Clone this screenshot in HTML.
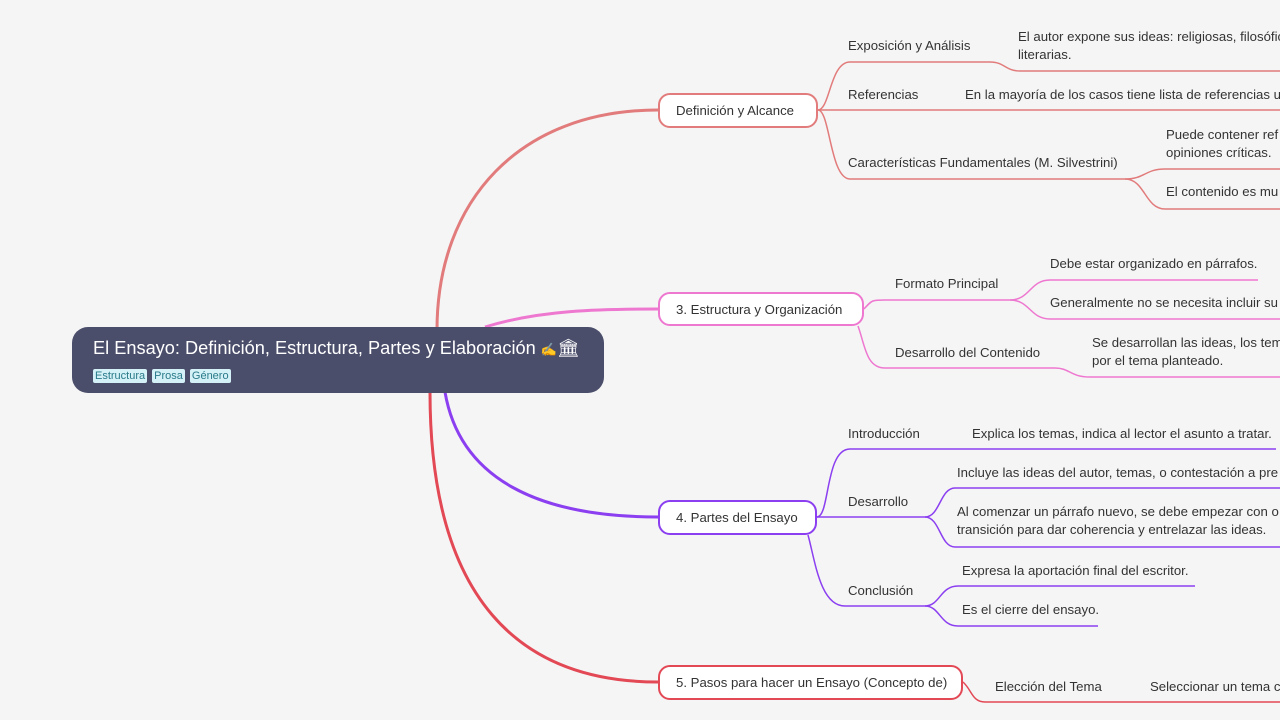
<!DOCTYPE html>
<html><head><meta charset="utf-8"><style>
body{margin:0;width:1280px;height:720px;background:#f5f5f5;overflow:hidden;position:relative;font-family:"Liberation Sans",sans-serif;}
.t{position:absolute;font-size:13.2px;color:#333;white-space:nowrap;line-height:18px;}
.n{position:absolute;background:#fff;border-radius:12px;box-sizing:border-box;font-size:13.2px;color:#333;display:flex;align-items:center;padding-left:16px;}
</style></head><body>
<svg width="1280" height="720" style="position:absolute;left:0;top:0" fill="none">
<g stroke="#e27b7b" stroke-width="1.5">
<path d="M818,110 C830,110 830,62 850,62 L990,62 C1005,62 1005,71 1020,71 L1280,71"/>
<path d="M818,110 L1280,110"/>
<path d="M818,110 C830,110 830,179 850,179 L1125,179 C1145,179 1145,169 1165,169 L1280,169"/>
<path d="M1125,179 C1145,179 1145,209 1165,209 L1280,209"/>
</g>
<g stroke="#ee77d0" stroke-width="1.5">
<path d="M864,309 C872,300 872,300 885,300 L1010,300 C1030,300 1030,280 1050,280 L1258,280"/>
<path d="M1010,300 C1030,300 1030,319 1050,319 L1280,319"/>
<path d="M858,326 C865,345 866,368 885,368 L1055,368 C1070,368 1070,377 1090,377 L1280,377"/>
</g>
<g stroke="#8b3ff0" stroke-width="1.5">
<path d="M817,517 C830,517 825,449 850,449 L1276,449"/>
<path d="M817,517 L925,517 C940,517 940,488 955,488 L1280,488"/>
<path d="M925,517 C940,517 940,547 955,547 L1280,547"/>
<path d="M808,535 C815,560 820,606 845,606 L925,606 C940,606 940,586 958,586 L1195,586"/>
<path d="M925,606 C940,606 940,626 958,626 L1098,626"/>
</g>
<g stroke="#e34855" stroke-width="1.5">
<path d="M963,682 C972,690 972,702 985,702 L1130,702 L1280,702"/>
</g>
<path d="M437,330 C437,200 520,110 658,110" stroke="#e27b7b" stroke-width="3"/>
<path d="M485,327 C540,310 600,309 658,309" stroke="#ee77d0" stroke-width="3"/>
<path d="M445,392 C460,480 540,517 658,517" stroke="#8b3ff0" stroke-width="3"/>
<path d="M430,392 C430,600 520,682 658,682" stroke="#e34855" stroke-width="3"/>
</svg>
<div style="position:absolute;left:72px;top:327px;width:532px;height:66px;background:#4b4e6b;border-radius:16px;"></div>
<div class="t" style="left:93px;top:337px;font-size:18.2px;color:#fff;line-height:22px">El Ensayo: Definición, Estructura, Partes y Elaboración <span style="font-size:13px;color:#777">✍</span><span style="font-size:18px">🏛</span></div>
<div style="position:absolute;left:93px;top:369px;display:flex;gap:5px;font-size:11px;color:#2a7a8a;">
<span style="background:#d3f1f6;padding:1px 2px;border-radius:2px">Estructura</span><span style="background:#d3f1f6;padding:1px 2px;border-radius:2px">Prosa</span><span style="background:#d3f1f6;padding:1px 2px;border-radius:2px">Género</span></div>
<div class="n" style="left:658px;top:93px;width:160px;height:35px;border:2px solid #e27b7b">Definición y Alcance</div>
<div class="n" style="left:658px;top:292px;width:206px;height:34px;border:2px solid #ee77d0">3. Estructura y Organización</div>
<div class="n" style="left:658px;top:500px;width:159px;height:35px;border:2px solid #8b3ff0">4. Partes del Ensayo</div>
<div class="n" style="left:658px;top:665px;width:305px;height:35px;border:2px solid #e34855">5. Pasos para hacer un Ensayo (Concepto de)</div>
<div class="t" style="left:848px;top:37px">Exposición y Análisis</div>
<div class="t" style="left:1018px;top:28px">El autor expone sus ideas: religiosas, filosóficas,<br>literarias.</div>
<div class="t" style="left:848px;top:86px">Referencias</div>
<div class="t" style="left:965px;top:86px">En la mayoría de los casos tiene lista de referencias u</div>
<div class="t" style="left:848px;top:154px">Características Fundamentales (M. Silvestrini)</div>
<div class="t" style="left:1166px;top:126px">Puede contener ref<br>opiniones críticas.</div>
<div class="t" style="left:1166px;top:183px">El contenido es mu</div>
<div class="t" style="left:895px;top:275px">Formato Principal</div>
<div class="t" style="left:1050px;top:255px">Debe estar organizado en párrafos.</div>
<div class="t" style="left:1050px;top:294px">Generalmente no se necesita incluir su</div>
<div class="t" style="left:895px;top:344px">Desarrollo del Contenido</div>
<div class="t" style="left:1092px;top:334px">Se desarrollan las ideas, los tem<br>por el tema planteado.</div>
<div class="t" style="left:848px;top:425px">Introducción</div>
<div class="t" style="left:972px;top:425px">Explica los temas, indica al lector el asunto a tratar.</div>
<div class="t" style="left:848px;top:493px">Desarrollo</div>
<div class="t" style="left:957px;top:464px">Incluye las ideas del autor, temas, o contestación a pre</div>
<div class="t" style="left:957px;top:503px">Al comenzar un párrafo nuevo, se debe empezar con o<br>transición para dar coherencia y entrelazar las ideas.</div>
<div class="t" style="left:848px;top:582px">Conclusión</div>
<div class="t" style="left:962px;top:562px">Expresa la aportación final del escritor.</div>
<div class="t" style="left:962px;top:601px">Es el cierre del ensayo.</div>
<div class="t" style="left:995px;top:678px">Elección del Tema</div>
<div class="t" style="left:1150px;top:678px">Seleccionar un tema c</div>
</body></html>
